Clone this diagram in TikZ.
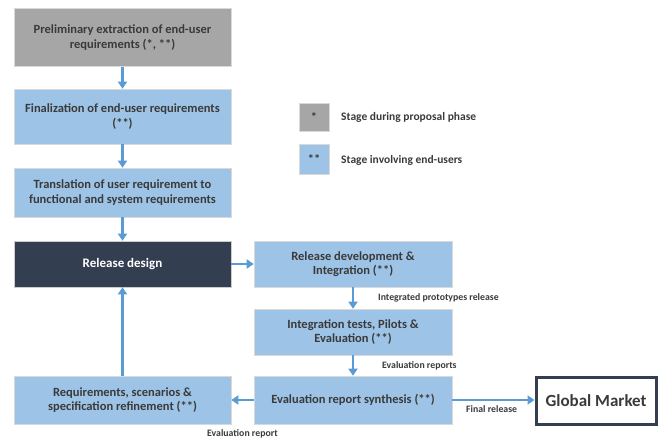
\documentclass[tikz,border=0pt]{standalone}
\usepackage{fontspec}
\setmainfont{Carlito}
\usetikzlibrary{arrows.meta}
\definecolor{boxblue}{HTML}{9DC3E6}
\definecolor{boxgray}{HTML}{A6A6A6}
\definecolor{navy}{HTML}{333F50}
\definecolor{arrblue}{HTML}{5B9BD5}
\definecolor{txt}{HTML}{3A3A3A}
\tikzset{
  stage/.style={draw=white!85!black, line width=0.6pt, fill=boxblue, text=txt, font=\bfseries\fontsize{12.5}{14.5}\selectfont, align=center, inner sep=0pt},
  flow/.style={draw=arrblue, line width=2.6pt, -{Triangle[length=7pt,width=9pt]}},
  lbl/.style={text=txt, font=\bfseries\fontsize{9.8}{11}\selectfont, inner sep=0pt},
  legtxt/.style={text=txt, font=\bfseries\fontsize{11.5}{13}\selectfont, inner sep=0pt, anchor=west}
}
\begin{document}
\begin{tikzpicture}[x=1pt,y=-1pt]
\useasboundingbox (0,0) rectangle (658,441);
\node[stage, fill=boxgray, minimum width=217pt, minimum height=58pt] (pre) at (122.5,37.5) {Preliminary extraction of end-user\\requirements (*, **)};
\node[stage, minimum width=217pt, minimum height=55pt] (fin) at (122.5,116.5) {Finalization of end-user requirements\\(**)};
\node[stage, minimum width=217pt, minimum height=49pt] (tra) at (122.5,192.5) {Translation of user requirement to\\functional and system requirements};
\node[stage, fill=navy, draw=white!80!black, text=white, font=\bfseries\fontsize{13}{15}\selectfont, minimum width=217pt, minimum height=46pt] (rd) at (122.5,264) {Release design};
\node[stage, minimum width=217pt, minimum height=48pt] (req) at (122.5,400) {Requirements, scenarios \&\\specification refinement (**)};
\node[stage, minimum width=198pt, minimum height=46pt] (dev) at (353,264) {Release development \&\\Integration (**)};
\node[stage, minimum width=198pt, minimum height=46pt] (it) at (353,332) {Integration tests, Pilots \&\\Evaluation (**)};
\node[stage, minimum width=198pt, minimum height=48pt] (ev) at (353,400) {Evaluation report synthesis (**)};
\node[draw=navy, line width=3pt, fill=white, text=txt, font=\bfseries\fontsize{17}{20}\selectfont, minimum width=120pt, minimum height=47pt, inner sep=0pt] (gm) at (596,401) {Global Market};
% legend
\node[stage, fill=boxgray, minimum width=30pt, minimum height=28pt] (lg1) at (314,117) {*};
\node[stage, minimum width=30pt, minimum height=30pt] (lg2) at (314,159) {**};
\node[legtxt] (lt1) at (341,117) {Stage during proposal phase};
\node[legtxt] (lt2) at (341,160) {Stage involving end-users};
% arrows
\draw[flow] (pre) -- (fin);
\draw[flow] (fin) -- (tra);
\draw[flow] (tra) -- (rd);
\draw[flow] (rd) -- (dev);
\draw[flow] (dev) -- (it);
\draw[flow] (it) -- (ev);
\draw[flow] (ev.west) -- (req.east);
\draw[flow] (req) -- (rd);
\draw[flow] (ev.east |- 0,400) -- (gm.west |- 0,400);
% labels
\node[lbl, anchor=west] (l1) at (378,298) {Integrated prototypes release};
\node[lbl, anchor=west] (l2) at (382,366) {Evaluation reports};
\node[lbl, anchor=west] (l3) at (207,434) {Evaluation report};
\node[lbl, anchor=west] (l4) at (466,409) {Final release};
\end{tikzpicture}
\end{document}
